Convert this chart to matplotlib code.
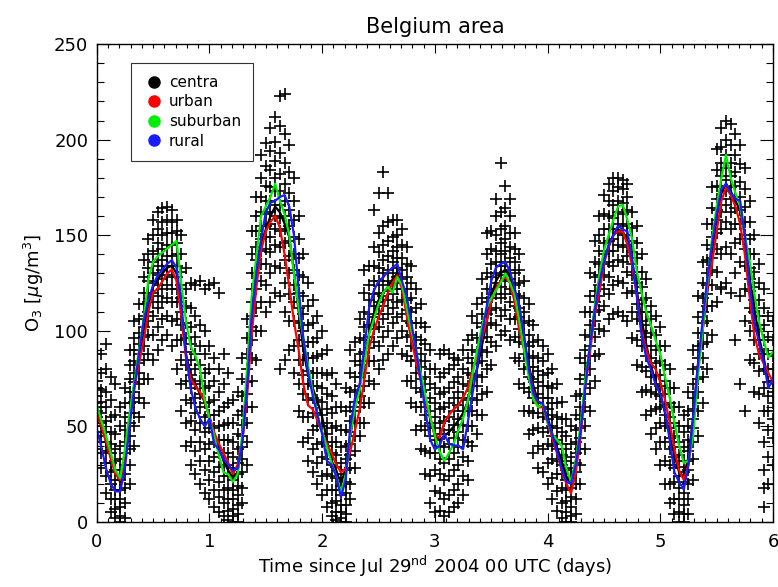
import numpy as np
import matplotlib
matplotlib.use("Agg")
import matplotlib.pyplot as plt
from matplotlib.ticker import MultipleLocator
from matplotlib.lines import Line2D

# hourly time axis, in days since Jul 29 2004 00 UTC
hours = np.arange(0, 145)

centra = [57, 50, 42, 34, 26, 21, 35, 55, 72, 86, 100, 113, 123, 127, 130, 133, 134, 130, 110, 88,
          77, 72, 67, 63, 55, 46, 39, 32, 27, 23, 26, 42, 70, 105, 135, 146, 153, 160, 165, 162,
          156, 149, 131, 110, 90, 77, 70, 63, 55, 43, 32, 27, 20, 28, 45, 60, 72, 86, 99, 109,
          116, 120, 123, 127, 130, 124, 112, 99, 86, 76, 64, 54, 45, 43, 45, 47, 50, 53, 57, 63,
          74, 80, 92, 104, 118, 126, 130, 132, 128, 120, 108, 94, 82, 71, 63, 61, 55, 46, 39, 32,
          24, 20, 32, 48, 72, 92, 110, 125, 137, 144, 150, 153, 152, 147, 137, 121, 106, 93, 82, 73,
          67, 57, 45, 35, 26, 24, 34, 55, 82, 100, 120, 140, 160, 172, 177, 173, 168, 163, 150, 128,
          112, 97, 86, 74, 72]
urban = [58, 50, 42, 33, 25, 22, 33, 52, 70, 83, 95, 110, 120, 122, 126, 130, 132, 126, 108, 86,
         75, 71, 68, 63, 55, 47, 41, 36, 31, 25, 30, 43, 65, 98, 123, 142, 152, 157, 160, 154,
         140, 123, 105, 90, 72, 61, 59, 53, 47, 41, 36, 30, 26, 28, 37, 48, 59, 75, 91, 100,
         107, 113, 120, 125, 129, 122, 108, 95, 84, 74, 63, 55, 46, 44, 52, 56, 59, 61, 65, 70,
         79, 86, 96, 105, 115, 122, 126, 128, 125, 115, 100, 90, 80, 68, 60, 60, 52, 44, 36, 27,
         20, 15, 26, 44, 70, 88, 108, 120, 135, 144, 150, 152, 152, 145, 134, 119, 100, 90, 83, 80,
         73, 64, 52, 38, 27, 22, 30, 52, 78, 100, 122, 135, 152, 168, 175, 171, 165, 156, 140, 118,
         98, 88, 83, 78, 73]
suburban = [61, 53, 45, 36, 27, 23, 38, 57, 73, 90, 106, 127, 136, 139, 141, 143, 145, 147, 125, 105,
            92, 87, 80, 64, 54, 45, 35, 26, 25, 21, 25, 46, 80, 118, 139, 160, 165, 170, 177, 168,
            161, 150, 130, 112, 96, 82, 68, 56, 47, 39, 31, 24, 16, 24, 46, 60, 69, 84, 98, 106,
            114, 120, 123, 120, 128, 124, 112, 100, 90, 78, 66, 55, 45, 37, 32, 36, 41, 48, 54, 63,
            77, 90, 102, 112, 117, 121, 125, 130, 125, 119, 105, 90, 76, 64, 60, 62, 52, 46, 43, 40,
            28, 21, 32, 50, 74, 92, 112, 129, 142, 150, 158, 165, 166, 158, 148, 131, 120, 110, 103, 95,
            88, 76, 65, 52, 40, 31, 32, 45, 76, 100, 125, 148, 165, 180, 192, 180, 172, 165, 150, 137,
            120, 105, 95, 86, 89]
rural = [49, 39, 28, 20, 16, 16, 28, 50, 70, 88, 105, 116, 124, 129, 132, 135, 137, 133, 115, 88,
         70, 60, 54, 50, 54, 41, 38, 33, 30, 27, 28, 42, 70, 108, 130, 148, 162, 167, 168, 170,
         171, 165, 150, 122, 96, 78, 66, 56, 46, 32, 30, 24, 13, 22, 50, 65, 72, 92, 112, 121,
         126, 128, 131, 133, 135, 126, 118, 104, 90, 74, 58, 43, 38, 40, 46, 41, 40, 40, 38, 52,
         67, 81, 98, 112, 126, 133, 135, 136, 131, 122, 113, 98, 80, 67, 63, 62, 53, 46, 37, 28,
         21, 20, 30, 47, 70, 92, 110, 125, 136, 145, 150, 155, 153, 152, 137, 118, 98, 86, 80, 72,
         67, 58, 43, 26, 21, 17, 30, 55, 82, 105, 127, 145, 161, 174, 177, 172, 169, 168, 150, 125,
         105, 94, 84, 70, 75]

# station observations, one list per hour
obs_by_hour = [
    [38, 45, 50, 55, 58, 62, 66, 70, 74, 52, 60],
    [28, 36, 42, 47, 52, 57, 63, 69, 78, 88],
    [15, 24, 31, 37, 42, 47, 53, 60, 68, 80, 93],
    [5, 12, 20, 26, 31, 36, 41, 47, 55, 64, 76],
    [2, 7, 12, 17, 22, 27, 32, 38, 46, 56, 72],
    [0, 3, 8, 12, 17, 22, 27, 33, 40, 50, 60],
    [2, 10, 18, 25, 30, 36, 42, 48, 55, 62, 70],
    [20, 30, 38, 45, 52, 57, 62, 68, 75, 82, 90],
    [40, 50, 57, 63, 68, 73, 78, 84, 90, 96, 105],
    [55, 65, 72, 78, 83, 88, 93, 99, 106, 114],
    [62, 75, 85, 92, 97, 102, 108, 114, 120, 128, 137],
    [75, 88, 98, 105, 110, 115, 120, 126, 133, 140, 148],
    [85, 98, 108, 115, 120, 125, 130, 136, 142, 150, 158],
    [90, 102, 112, 118, 124, 129, 134, 140, 146, 153, 162],
    [95, 106, 115, 122, 127, 132, 137, 143, 150, 157, 164],
    [98, 108, 117, 124, 129, 134, 139, 145, 151, 158, 165],
    [92, 105, 115, 122, 128, 134, 139, 145, 151, 157, 163],
    [80, 95, 106, 115, 122, 128, 134, 140, 146, 152, 158],
    [58, 72, 85, 95, 103, 110, 117, 124, 131, 140, 150],
    [40, 52, 64, 74, 82, 89, 96, 104, 113, 122, 133],
    [30, 42, 53, 62, 70, 77, 85, 93, 102, 112, 125],
    [25, 37, 48, 57, 65, 72, 80, 88, 97, 108, 124],
    [20, 32, 42, 52, 60, 67, 74, 82, 92, 103, 126],
    [15, 27, 38, 47, 55, 62, 70, 78, 88, 100, 122],
    [12, 22, 32, 41, 49, 56, 63, 71, 80, 92, 124],
    [8, 17, 26, 34, 42, 49, 56, 64, 74, 86, 125],
    [5, 13, 21, 29, 36, 43, 50, 58, 68, 80, 120],
    [3, 10, 17, 24, 30, 36, 43, 51, 60, 72, 88],
    [1, 6, 12, 18, 24, 30, 36, 43, 52, 62, 78],
    [0, 3, 7, 12, 17, 22, 28, 34, 42, 52, 64],
    [0, 4, 9, 14, 19, 25, 31, 38, 46, 56, 68],
    [10, 18, 26, 33, 39, 45, 51, 58, 66, 75, 86],
    [30, 42, 52, 60, 67, 73, 80, 88, 96, 106],
    [60, 74, 86, 95, 102, 108, 115, 122, 130, 140, 152],
    [85, 100, 112, 122, 130, 137, 144, 152, 160, 170],
    [100, 115, 126, 135, 142, 148, 155, 162, 170, 180, 192],
    [110, 124, 135, 143, 149, 155, 161, 168, 176, 186, 198],
    [115, 130, 141, 149, 156, 162, 168, 175, 184, 194, 206],
    [120, 134, 145, 153, 160, 166, 173, 180, 189, 199, 212],
    [80, 118, 133, 144, 152, 159, 166, 173, 182, 193, 207, 223],
    [85, 110, 125, 137, 146, 153, 160, 168, 177, 188, 203, 224],
    [90, 105, 119, 130, 139, 147, 155, 163, 172, 183, 197],
    [78, 92, 105, 115, 124, 132, 140, 149, 158, 168, 180],
    [58, 72, 85, 95, 104, 112, 120, 129, 138, 148, 160],
    [42, 55, 67, 77, 85, 92, 100, 109, 118, 128, 140],
    [32, 44, 55, 64, 72, 79, 86, 94, 103, 113, 125],
    [26, 38, 48, 57, 65, 71, 78, 86, 94, 104, 116],
    [20, 31, 41, 50, 57, 64, 71, 78, 87, 96, 108],
    [14, 24, 34, 42, 50, 56, 63, 70, 78, 88, 100],
    [8, 17, 25, 33, 40, 46, 52, 59, 67, 77, 90],
    [3, 10, 17, 24, 30, 36, 42, 49, 57, 66, 78],
    [1, 5, 11, 17, 23, 29, 35, 42, 50, 60, 72],
    [0, 2, 5, 9, 14, 19, 25, 31, 39, 48, 60],
    [0, 4, 9, 15, 21, 27, 33, 40, 48, 58, 70],
    [12, 20, 28, 35, 41, 47, 53, 60, 68, 78, 90],
    [28, 37, 45, 52, 58, 63, 69, 76, 84, 94],
    [45, 52, 60, 66, 71, 76, 82, 88, 96, 106],
    [52, 62, 71, 78, 84, 89, 95, 102, 110, 120, 132],
    [62, 74, 84, 91, 97, 103, 109, 116, 124, 134],
    [72, 84, 94, 101, 107, 113, 119, 126, 134, 144, 163],
    [80, 92, 102, 109, 115, 120, 126, 133, 141, 151, 172],
    [85, 97, 106, 113, 118, 124, 130, 137, 145, 155, 183],
    [88, 100, 109, 116, 121, 126, 132, 139, 147, 157, 172],
    [92, 104, 112, 119, 125, 130, 136, 142, 149, 158],
    [96, 107, 115, 122, 128, 133, 138, 144, 150, 158],
    [88, 100, 109, 116, 122, 127, 132, 138, 145, 153],
    [74, 87, 97, 105, 111, 116, 122, 128, 135, 144],
    [62, 74, 84, 92, 98, 104, 110, 117, 125, 134],
    [48, 60, 70, 78, 85, 91, 97, 104, 112, 122],
    [38, 50, 60, 68, 75, 81, 88, 95, 104, 114],
    [25, 37, 48, 56, 63, 69, 76, 84, 93, 102],
    [10, 24, 36, 45, 52, 58, 65, 72, 80, 90],
    [5, 16, 27, 36, 43, 49, 55, 62, 70, 80],
    [6, 15, 25, 33, 40, 46, 52, 59, 67, 76, 88],
    [3, 12, 22, 31, 39, 46, 53, 60, 68, 78, 90],
    [5, 14, 24, 33, 41, 48, 55, 62, 70, 80, 88],
    [8, 17, 27, 36, 44, 51, 58, 65, 73, 82, 86],
    [10, 20, 30, 39, 47, 54, 61, 68, 76, 85],
    [14, 24, 34, 43, 51, 58, 65, 72, 80, 90],
    [22, 32, 42, 50, 58, 64, 71, 78, 86, 95],
    [40, 50, 58, 65, 71, 77, 83, 90, 98, 108],
    [46, 56, 64, 71, 77, 83, 89, 96, 104, 114],
    [56, 67, 76, 84, 90, 96, 102, 109, 117, 127],
    [68, 80, 89, 97, 103, 109, 115, 122, 130, 140, 151],
    [82, 94, 104, 111, 117, 122, 128, 135, 143, 152],
    [92, 103, 112, 119, 125, 130, 136, 142, 150, 160, 169],
    [98, 108, 117, 123, 129, 134, 140, 146, 153, 162, 188],
    [100, 111, 119, 126, 131, 136, 142, 148, 155, 164, 176],
    [95, 106, 115, 122, 127, 132, 138, 144, 151, 160, 169],
    [86, 97, 106, 113, 119, 124, 130, 136, 143, 151],
    [72, 84, 94, 101, 107, 112, 118, 125, 132, 140],
    [58, 70, 80, 88, 93, 98, 104, 110, 117, 126],
    [46, 58, 68, 76, 81, 86, 92, 98, 105, 114],
    [36, 48, 57, 65, 70, 75, 81, 87, 94, 103],
    [28, 40, 49, 57, 62, 67, 73, 79, 86, 95],
    [26, 38, 47, 55, 60, 65, 71, 77, 84, 92],
    [20, 31, 41, 49, 54, 59, 65, 71, 78, 88],
    [12, 23, 33, 40, 45, 50, 56, 62, 70, 80],
    [6, 16, 25, 32, 38, 43, 49, 55, 62, 72],
    [2, 10, 18, 25, 30, 35, 41, 47, 54, 63],
    [0, 5, 11, 17, 22, 27, 32, 38, 45, 54],
    [0, 3, 8, 13, 18, 23, 28, 34, 41, 50],
    [4, 12, 20, 26, 31, 36, 42, 48, 56, 66],
    [20, 30, 38, 44, 49, 54, 60, 67, 75, 86],
    [38, 50, 60, 67, 72, 77, 83, 90, 98, 110],
    [58, 70, 80, 87, 92, 97, 103, 110, 118, 130],
    [74, 87, 97, 105, 110, 115, 121, 128, 136, 147],
    [88, 101, 111, 118, 124, 129, 135, 142, 150, 160],
    [100, 113, 122, 129, 135, 140, 146, 153, 161, 171],
    [106, 119, 128, 136, 142, 147, 153, 160, 168, 177],
    [109, 124, 134, 142, 148, 153, 159, 166, 173, 180],
    [110, 126, 137, 145, 151, 156, 162, 168, 175, 180],
    [108, 125, 136, 144, 150, 155, 161, 167, 174, 179],
    [105, 120, 131, 139, 145, 150, 156, 163, 170, 177],
    [96, 110, 121, 129, 135, 141, 147, 154, 162],
    [82, 95, 106, 114, 120, 125, 131, 138, 146, 155],
    [68, 81, 92, 100, 105, 110, 116, 123, 131, 140],
    [56, 69, 79, 87, 92, 97, 103, 110, 117, 127],
    [46, 58, 68, 76, 81, 86, 92, 99, 106, 113],
    [38, 49, 59, 67, 72, 77, 83, 90, 98, 108],
    [30, 42, 52, 60, 66, 71, 77, 84, 92, 102],
    [20, 32, 42, 50, 56, 61, 67, 74, 82, 92],
    [10, 20, 30, 38, 44, 49, 55, 62, 70, 80],
    [4, 12, 21, 28, 34, 39, 45, 52, 60, 70],
    [0, 5, 12, 18, 24, 29, 35, 42, 50, 60],
    [0, 4, 9, 15, 21, 26, 32, 39, 47, 56],
    [4, 12, 20, 27, 32, 37, 43, 50, 58, 68],
    [22, 33, 42, 49, 54, 59, 65, 72, 80, 90],
    [45, 58, 68, 75, 81, 86, 92, 99, 107, 118],
    [62, 76, 86, 93, 99, 104, 110, 117, 125, 136],
    [80, 94, 105, 113, 119, 124, 130, 137, 145, 156],
    [98, 113, 124, 132, 138, 143, 149, 156, 164, 175],
    [115, 131, 143, 151, 158, 163, 169, 176, 184, 195],
    [122, 140, 153, 162, 169, 175, 181, 188, 196, 206, 123],
    [125, 144, 157, 166, 173, 179, 185, 192, 200, 210],
    [120, 140, 153, 162, 169, 175, 181, 188, 197, 208],
    [95, 130, 146, 156, 164, 170, 176, 183, 192, 203],
    [72, 118, 136, 148, 156, 163, 170, 178, 187, 197],
    [58, 105, 122, 134, 143, 150, 157, 165, 174, 185],
    [85, 100, 112, 121, 127, 133, 140, 148, 157, 168],
    [68, 83, 95, 104, 110, 116, 123, 131, 140, 150],
    [52, 67, 79, 88, 95, 101, 108, 116, 125, 135],
    [8, 18, 27, 42, 58, 70, 80, 88, 95, 103, 112, 122],
    [20, 34, 48, 58, 66, 73, 80, 88, 97, 108],
    [30, 44, 54, 62, 68, 74, 80, 87, 95, 105],
]

series = [("centra", centra, "black"), ("urban", urban, "red"),
          ("suburban", suburban, "#00ee00"), ("rural", rural, "#1a1aff")]

plt.rcParams['font.family'] = ['DejaVu Sans']
fig = plt.figure(figsize=(7.78, 5.87), dpi=100)
ax = fig.add_axes([0.1243, 0.1107, 0.8693, 0.8143])

# scatter of all station values
obs_x = []
obs_y = []
for h, vals in zip(hours, obs_by_hour):
    obs_x.extend([h / 24.0] * len(vals))
    obs_y.extend(vals)
ax.plot(obs_x, obs_y, '+', color='black', markersize=8, markeredgewidth=1.2, zorder=1)

for name, vals, col in series:
    ax.plot(hours / 24.0, vals, '-', color=col, linewidth=1.6, zorder=2)

ax.set_xlim(0, 6)
ax.set_ylim(0, 250)
ax.xaxis.set_major_locator(MultipleLocator(1))
ax.xaxis.set_minor_locator(MultipleLocator(0.1))
ax.yaxis.set_major_locator(MultipleLocator(50))
ax.yaxis.set_minor_locator(MultipleLocator(10))
ax.tick_params(which='both', direction='in', top=True, right=True, labelsize=13, width=0.8)
ax.tick_params(axis='x', which='major', length=6.5, pad=8)
ax.tick_params(axis='x', which='minor', length=3.2)
ax.tick_params(axis='y', which='major', length=9.5, pad=6)
ax.tick_params(axis='y', which='minor', length=5)
for sp in ax.spines.values():
    sp.set_linewidth(1.0)

ax.set_title('Belgium area', fontsize=15, pad=8)
ax.set_xlabel(r'Time since Jul 29$^{\rm nd}$ 2004 00 UTC (days)', fontsize=13, labelpad=2)
ax.set_ylabel(r'O$_3$ [$\mu$g/m$^3$]', fontsize=13, labelpad=6)

handles = [Line2D([], [], linestyle='none', marker='o', markersize=8, color=col,
                  label=name) for name, vals, col in series]
leg = ax.legend(handles=handles, loc='upper left', bbox_to_anchor=(0.05, 0.961),
                borderaxespad=0, fontsize=11, frameon=True, fancybox=False,
                handletextpad=0.2, labelspacing=0.3, borderpad=0.8, handlelength=1.5)
leg.get_frame().set_edgecolor('black')
leg.get_frame().set_linewidth(0.8)

fig.savefig('out.png', dpi=100)
